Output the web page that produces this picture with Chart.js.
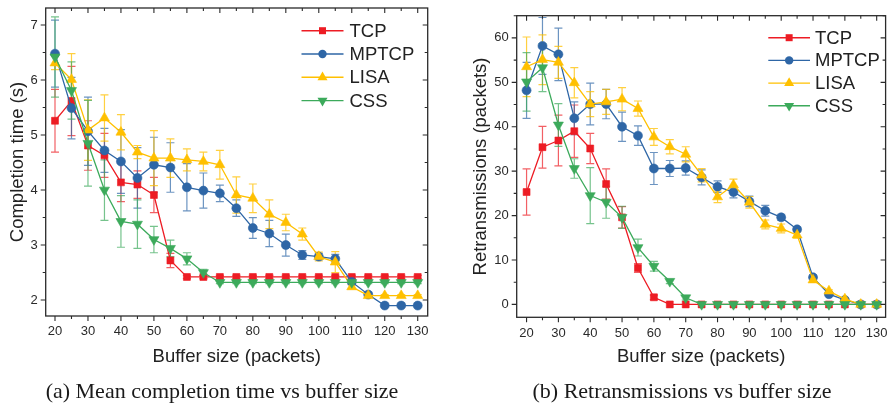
<!DOCTYPE html>
<html><head><meta charset="utf-8">
<script src="https://cdn.jsdelivr.net/npm/chart.js@4"></script>
<style>
html,body{margin:0;padding:0;background:#fff;}
#wrap{position:relative;width:892px;height:404px;overflow:hidden;background:#fff;}
.pane{position:absolute;top:0;width:446px;height:404px;}
.cap{position:absolute;top:379px;width:446px;text-align:center;font-family:"Liberation Serif","Times New Roman",serif;font-size:22px;line-height:24px;color:#1a1a1a;white-space:nowrap;}
</style></head>
<body>
<div id="wrap">
  <div class="pane" style="left:0"><canvas id="c1" width="446" height="404"></canvas></div>
  <div class="pane" style="left:446px"><canvas id="c2" width="446" height="404"></canvas></div>
  <div class="cap" style="left:-1px">(a) Mean completion time vs buffer size</div>
  <div class="cap" style="left:459px">(b) Retransmissions vs buffer size</div>
</div>
<script>
// ---------- data ----------
const bufferSizes = [20,25,30,35,40,45,50,55,60,65,70,75,80,85,90,95,100,105,110,115,120,125,130];
const bufferTicks = [20,30,40,50,60,70,80,90,100,110,120,130];
const timeTicks = [2,3,4,5,6,7];
const retxTicks = [0,10,20,30,40,50,60];
const seriesNames = ['TCP','MPTCP','LISA','CSS'];

const tcpTime    = [5.26,5.62,4.81,4.63,4.14,4.10,3.91,2.72,2.42,2.42,2.42,2.42,2.42,2.42,2.42,2.42,2.42,2.42,2.42,2.42,2.42,2.42,2.42];
const tcpTimeErr = [0.57,0.63,0.45,0.40,0.35,0.25,0.32,0.13,0.03,0.03,0.03,0.03,0.03,0.03,0.03,0.03,0.03,0.03,0.03,0.03,0.03,0.03,0.03];
const mptcpTime    = [6.48,5.49,5.07,4.72,4.52,4.22,4.46,4.41,4.05,3.99,3.94,3.67,3.31,3.21,3.00,2.82,2.79,2.75,2.33,2.10,1.90,1.90,1.90];
const mptcpTimeErr = [0.61,0.56,0.62,0.40,0.58,0.55,0.50,0.45,0.43,0.32,0.15,0.15,0.19,0.24,0.20,0.08,0.06,0.08,0.05,0.03,0.02,0.02,0.02];
const lisaTime    = [6.31,6.01,5.09,5.31,5.05,4.69,4.58,4.58,4.55,4.52,4.46,3.91,3.85,3.56,3.41,3.20,2.79,2.69,2.24,2.08,2.08,2.08,2.08];
const lisaTimeErr = [0.12,0.47,0.55,0.42,0.32,0.12,0.50,0.35,0.20,0.17,0.26,0.33,0.26,0.26,0.15,0.11,0.08,0.19,0.04,0.03,0.02,0.02,0.02];
const cssTime    = [6.42,5.81,4.85,4.00,3.43,3.38,3.10,2.94,2.75,2.50,2.32,2.32,2.32,2.32,2.32,2.32,2.32,2.32,2.32,2.32,2.32,2.32,2.32];
const cssTimeErr = [0.73,0.52,0.78,0.55,0.47,0.44,0.24,0.15,0.11,0.06,0.02,0.02,0.02,0.02,0.02,0.02,0.02,0.02,0.02,0.02,0.02,0.02,0.02];

const tcpRetx    = [25.3,35.4,36.9,39.0,35.1,27.1,19.6,8.2,1.6,0,0,0,0,0,0,0,0,0,0,0,0,0,0];
const tcpRetxErr = [5.2,4.7,5.7,5.9,3.4,3.4,2.4,1.0,0.5,0,0,0,0,0,0,0,0,0,0,0,0,0,0];
const mptcpRetx    = [48.2,58.2,56.3,41.9,45.1,45.1,40.0,38.0,30.6,30.6,30.7,28.6,26.5,25.3,23.2,21.1,19.6,16.9,6.1,2.3,1.0,0,0];
const mptcpRetxErr = [6.3,6.4,5.9,3.7,4.7,3.3,3.3,2.2,3.6,1.8,1.6,1.7,1.3,1.3,1.2,1.2,0.7,0.5,0.5,0.3,0.3,0,0];
const lisaRetx    = [53.5,55.1,54.5,49.9,45.1,45.6,46.2,44.1,37.7,35.5,33.8,29.1,24.2,26.9,23.0,18.0,17.1,15.6,5.5,3.0,1.2,0,0];
const lisaRetxErr = [6.7,5.6,3.6,3.4,2.8,2.8,2.6,1.7,1.9,1.6,1.7,1.5,1.3,1.3,1.3,1.0,1.0,0.7,0.5,0.3,0.3,0,0];
const cssRetx    = [50.1,53.3,40.4,30.6,24.5,23.0,19.6,12.8,8.6,5.2,1.5,0,0,0,0,0,0,0,0,0,0,0,0];
const cssRetxErr = [6.6,5.4,4.8,2.2,6.3,3.6,2.5,1.9,1.1,0.5,0.5,0,0,0,0,0,0,0,0,0,0,0,0];

// ---------- styles ----------
const COLORS = ['#ED1C24','#2E66A6','#FFC000','#3CAA5B'];
const ERRCOL = ['rgba(237,28,36,0.7)','rgba(46,102,166,0.7)','rgba(255,192,0,0.75)','rgba(60,170,91,0.7)'];
const SHAPES = ['rect','circle','triangle','triangle'];
const ROTS = [0,0,0,180];
const RADII = [4.9,4.5,5.8,5.8];
const ORDERS = [4,3,2,1];
const FONT = '"Liberation Sans", Arial, Helvetica, sans-serif';
const INK = '#2a2a2a';

function makeDatasets(vals, errs){
  return vals.map((v,i)=>({
    label: seriesNames[i],
    data: bufferSizes.map((x,j)=>({x:x, y:v[j]})),
    errors: errs[i],
    borderColor: COLORS[i], backgroundColor: COLORS[i],
    pointBackgroundColor: COLORS[i], pointBorderColor: COLORS[i],
    pointBorderWidth: 0.6, borderWidth: 1.3,
    pointStyle: SHAPES[i], pointRotation: ROTS[i], pointRadius: RADII[i], pointHoverRadius: RADII[i],
    order: ORDERS[i], errIndex: i, tension: 0
  }));
}

const errorBars = {
  id:'errorBars',
  beforeDatasetsDraw(chart){
    const ctx = chart.ctx, ys = chart.scales.y;
    ctx.save();
    ctx.lineWidth = 1.2;
    const dsList = chart.data.datasets.map((d,i)=>i).sort((a,b)=>chart.data.datasets[b].order-chart.data.datasets[a].order);
    dsList.forEach(di=>{
      const ds = chart.data.datasets[di];
      const meta = chart.getDatasetMeta(di);
      ctx.strokeStyle = ERRCOL[ds.errIndex];
      meta.data.forEach((pt,j)=>{
        const e = ds.errors[j]; if(!e) return;
        const v = ds.data[j].y;
        const y1 = ys.getPixelForValue(v+e), y2 = ys.getPixelForValue(v-e);
        const x = pt.x;
        ctx.beginPath();
        ctx.moveTo(x,y1); ctx.lineTo(x,y2);
        ctx.moveTo(x-4,y1); ctx.lineTo(x+4,y1);
        ctx.moveTo(x-4,y2); ctx.lineTo(x+4,y2);
        ctx.stroke();
      });
    });
    ctx.restore();
  }
};

function frameTicks(cfg){
  return {
    id:'frameTicks',
    afterDraw(chart){
      const ctx = chart.ctx, a = chart.chartArea, xs = chart.scales.x, ys = chart.scales.y;
      ctx.save();
      ctx.strokeStyle = INK; ctx.lineWidth = 1.3;
      ctx.strokeRect(a.left, a.top, a.right-a.left, a.bottom-a.top);
      ctx.lineWidth = 1.1;
      ctx.beginPath();
      for(let v=cfg.xStart; v<=xs.max+1e-9; v+=cfg.xMinor){
        if(v < xs.min) continue;
        const major = Math.abs(((v-cfg.xStart)/cfg.xMajor) - Math.round((v-cfg.xStart)/cfg.xMajor))<1e-6;
        const L = major?5:3;
        const px = xs.getPixelForValue(v);
        ctx.moveTo(px,a.bottom); ctx.lineTo(px,a.bottom+L);
        ctx.moveTo(px,a.top); ctx.lineTo(px,a.top+L);
      }
      for(let v=cfg.yStart; v<=ys.max+1e-9; v+=cfg.yMinor){
        if(v < ys.min) continue;
        const major = Math.abs(((v-cfg.yStart)/cfg.yMajor) - Math.round((v-cfg.yStart)/cfg.yMajor))<1e-6;
        const L = major?5:3;
        const py = ys.getPixelForValue(v);
        ctx.moveTo(a.left,py); ctx.lineTo(a.left-L,py);
        ctx.moveTo(a.right,py); ctx.lineTo(a.right-L,py);
      }
      ctx.stroke();
      // legend
      const lg = cfg.legend;
      ctx.font = '18.5px ' + FONT;
      ctx.textBaseline = 'middle';
      ctx.fillStyle = '#222';
      seriesNames.forEach((n,i)=>{
        const y = lg.y0 + i*lg.dy;
        ctx.strokeStyle = COLORS[i]; ctx.lineWidth = 1.4;
        ctx.beginPath(); ctx.moveTo(lg.x0,y); ctx.lineTo(lg.x1,y); ctx.stroke();
        const mx = (lg.x0+lg.x1)/2;
        ctx.fillStyle = COLORS[i];
        ctx.beginPath();
        if(i===0){ ctx.rect(mx-3.5,y-3.5,7,7); }
        else if(i===1){ ctx.arc(mx,y,4.2,0,Math.PI*2); }
        else if(i===2){ ctx.moveTo(mx,y-5.8); ctx.lineTo(mx+5,y+2.9); ctx.lineTo(mx-5,y+2.9); ctx.closePath(); }
        else { ctx.moveTo(mx,y+5.8); ctx.lineTo(mx+5,y-2.9); ctx.lineTo(mx-5,y-2.9); ctx.closePath(); }
        ctx.fill();
        ctx.fillStyle = '#222';
        ctx.fillText(n, lg.tx, y+1);
      });
      ctx.restore();
    }
  };
}

function makeChart(id, vals, errs, opt){
  return new Chart(document.getElementById(id), {
    type:'line',
    data:{ datasets: makeDatasets(vals, errs) },
    options:{
      responsive:false, animation:false, events:[],
      layout:{ padding:{ top:opt.padTop, right:opt.padRight, left:0, bottom:0 } },
      plugins:{ legend:{display:false}, tooltip:{enabled:false} },
      scales:{
        x:{
          type:'linear', min:opt.xMin, max:opt.xMax,
          afterBuildTicks:s=>{ s.ticks = bufferTicks.map(v=>({value:v})); },
          afterFit:s=>{ s.height = opt.xHeight; s.paddingLeft=0; s.paddingRight=0; },
          grid:{display:false, drawTicks:false},
          border:{display:false},
          ticks:{ font:{family:FONT,size:13}, color:INK, padding:8, maxRotation:0, autoSkip:false },
          title:{ display:true, text:'Buffer size (packets)', font:{family:FONT,size:18.5}, color:'#222', padding:{top:0,bottom:35.5} }
        },
        y:{
          type:'linear', min:opt.yMin, max:opt.yMax,
          afterBuildTicks:s=>{ s.ticks = opt.yTicks.map(v=>({value:v})); },
          afterFit:s=>{ s.width = opt.yWidth; s.paddingTop=0; s.paddingBottom=0; },
          grid:{display:false, drawTicks:false},
          border:{display:false},
          ticks:{ font:{family:FONT,size:13}, color:INK, padding:8 },
          title:{ display:true, text:opt.yTitle, font:{family:FONT,size:18.5}, color:'#222', padding:{top:opt.yTitlePad,bottom:0} }
        }
      }
    },
    plugins:[errorBars, frameTicks(opt.tickCfg)]
  });
}

makeChart('c1', [tcpTime,mptcpTime,lisaTime,cssTime], [tcpTimeErr,mptcpTimeErr,lisaTimeErr,cssTimeErr], {
  padTop:8, padRight:18.3, xHeight:88, yWidth:45.7,
  xMin:17.18, xMax:133.03, yMin:1.71, yMax:7.31, yTicks:timeTicks,
  yTitle:'Completion time (s)', yTitlePad:6.4,
  tickCfg:{ xStart:20, xMajor:10, xMinor:5, yStart:2, yMajor:1, yMinor:0.5,
    legend:{ x0:301.5, x1:343.5, tx:349.5, y0:30.7, dy:23.3 } }
});
makeChart('c2', [tcpRetx,mptcpRetx,lisaRetx,cssRetx], [tcpRetxErr,mptcpRetxErr,lisaRetxErr,cssRetxErr], {
  padTop:15.7, padRight:1.7, xHeight:86.7, yWidth:70.7,
  xMin:16.9, xMax:132.8, yMin:-2.9, yMax:65, yTicks:retxTicks,
  yTitle:'Retransmissions (packets)', yTitlePad:23.9,
  tickCfg:{ xStart:20, xMajor:10, xMinor:5, yStart:0, yMajor:10, yMinor:5,
    legend:{ x0:322.3, x1:364, tx:369, y0:37.7, dy:22.7 } }
});
</script>
</body></html>
